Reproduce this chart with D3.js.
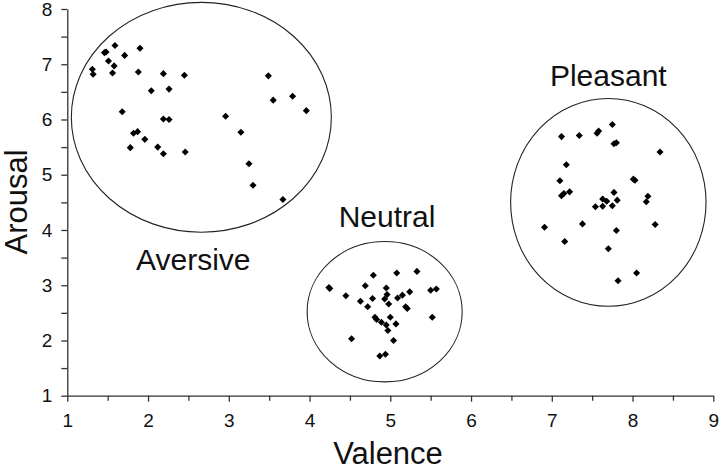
<!DOCTYPE html>
<html>
<head>
<meta charset="utf-8">
<script src="https://cdn.jsdelivr.net/npm/d3@7"></script>
<style>
  html, body { margin: 0; padding: 0; background: #fff; }
  svg { display: block; font-family: "Liberation Sans", Arial, sans-serif; }
</style>
</head>
<body>
<div class="container"></div>
<script>
// valence / arousal ratings
const aversive = [
  [1.31, 6.91], [1.32, 6.82], [1.46, 7.21], [1.48, 7.22], [1.59, 7.34],
  [1.51, 7.06], [1.58, 6.97], [1.56, 6.84], [1.71, 7.16], [1.90, 7.29],
  [1.88, 6.86], [2.19, 6.83], [2.45, 6.80], [2.04, 6.52], [2.26, 6.55],
  [1.68, 6.14], [2.19, 6.01], [2.26, 6.00], [1.82, 5.75], [1.87, 5.78],
  [1.96, 5.64], [1.78, 5.49], [2.12, 5.50], [2.19, 5.38], [2.46, 5.41],
  [2.96, 6.06], [3.15, 5.77], [3.25, 5.20], [3.30, 4.81], [3.67, 4.55],
  [3.49, 6.79], [3.55, 6.35], [3.79, 6.42], [3.96, 6.16]
];
const neutral = [
  [4.24, 2.96], [4.25, 2.94], [4.45, 2.81], [4.52, 2.03], [4.63, 2.71],
  [4.69, 2.99], [4.72, 2.61], [4.78, 2.76], [4.79, 3.18], [4.81, 2.42],
  [4.83, 2.38], [4.87, 1.72], [4.89, 2.33], [4.94, 1.75], [4.93, 2.75],
  [4.95, 2.95], [4.96, 2.83], [4.98, 2.66], [4.95, 2.28], [4.97, 2.18],
  [5.00, 2.42], [5.04, 2.00], [5.07, 2.30], [5.08, 3.22], [5.09, 2.77],
  [5.15, 2.82], [5.19, 2.61], [5.21, 2.58], [5.24, 2.88], [5.33, 3.25],
  [5.50, 2.91], [5.57, 2.93], [5.52, 2.42]
];
const pleasant = [
  [7.75, 5.91], [7.12, 5.69], [7.34, 5.71], [7.56, 5.75], [7.58, 5.79],
  [7.77, 5.56], [7.80, 5.58], [8.34, 5.41], [7.18, 5.18], [7.10, 4.89],
  [8.01, 4.92], [8.03, 4.90], [7.12, 4.62], [7.15, 4.66], [7.22, 4.69],
  [7.77, 4.68], [7.63, 4.56], [7.68, 4.52], [7.81, 4.54], [7.54, 4.42],
  [7.63, 4.43], [7.75, 4.44], [8.19, 4.61], [8.17, 4.51], [6.91, 4.05],
  [7.38, 4.11], [7.80, 3.99], [8.28, 4.10], [7.16, 3.79], [7.70, 3.66],
  [8.05, 3.22], [7.82, 3.08]
];

// group outlines: centre and radii in data units, label position
const groups = ['Aversive', 'Neutral', 'Pleasant'];
const ellipseCx = [2.66, 4.93, 7.70];
const ellipseCy = [6.04, 2.52, 4.50];
const ellipseRx = [1.61, 0.96, 1.21];
const ellipseRy = [2.08, 1.27, 1.88];
const labelX = [2.56, 4.96, 7.70];
const labelY = [3.27, 4.05, 6.61];

const xTicks = [1, 2, 3, 4, 5, 6, 7, 8, 9];
const yTicks = [1, 2, 3, 4, 5, 6, 7, 8];

const width = 720;
const height = 473;

const svg = d3
  .select('.container')
  .append('svg')
  .attr('width', width)
  .attr('height', height);

const xScale = d3.scaleLinear().domain([1, 9]).range([67.3, 713.3]);
const yScale = d3.scaleLinear().domain([1, 8]).range([395.7, 9]);

const halfSteps = (ticks) => ticks.slice(0, -1).map((t) => t + 0.5);

// minor ticks at the half units
svg
  .append('g')
  .attr('transform', `translate(0,${yScale(1)})`)
  .call(d3.axisBottom(xScale).tickValues(halfSteps(xTicks)).tickSize(5).tickFormat(''))
  .call((g) => g.select('.domain').remove());
svg
  .append('g')
  .attr('transform', `translate(${xScale(1)},0)`)
  .call(d3.axisLeft(yScale).tickValues(halfSteps(yTicks)).tickSize(6).tickFormat(''))
  .call((g) => g.select('.domain').remove());

svg
  .append('g')
  .attr('id', 'x-axis')
  .attr('transform', `translate(0,${yScale(1)})`)
  .call(
    d3.axisBottom(xScale).tickValues(xTicks).tickFormat(d3.format('d'))
      .tickSize(6).tickSizeOuter(0).tickPadding(12)
  );
svg
  .append('g')
  .attr('id', 'y-axis')
  .attr('transform', `translate(${xScale(1)},0)`)
  .call(
    d3.axisLeft(yScale).tickValues(yTicks).tickFormat(d3.format('d'))
      .tickSize(6).tickSizeOuter(0).tickPadding(9)
  );

svg.selectAll('#x-axis, #y-axis')
  .attr('font-size', 19)
  .attr('font-family', '"Liberation Sans", Arial, sans-serif');
svg.selectAll('.tick text').attr('fill', '#111');
svg.selectAll('.domain, .tick line').attr('stroke', '#333').attr('stroke-width', 1.3);

// group ellipses
groups.forEach((name, i) => {
  svg
    .append('ellipse')
    .attr('cx', xScale(ellipseCx[i]))
    .attr('cy', yScale(ellipseCy[i]))
    .attr('rx', xScale(ellipseCx[i] + ellipseRx[i]) - xScale(ellipseCx[i]))
    .attr('ry', yScale(ellipseCy[i]) - yScale(ellipseCy[i] + ellipseRy[i]))
    .attr('fill', 'none')
    .attr('stroke', '#222')
    .attr('stroke-width', 1.1);

  svg
    .append('text')
    .attr('x', xScale(labelX[i]))
    .attr('y', yScale(labelY[i]))
    .attr('text-anchor', 'middle')
    .style('font-size', '30px')
    .attr('fill', '#111')
    .text(name);
});

// points
const diamond = d3.symbol().type(d3.symbolSquare).size(25);
[aversive, neutral, pleasant].forEach((pts) => {
  svg
    .append('g')
    .selectAll('path')
    .data(pts)
    .enter()
    .append('path')
    .attr('d', diamond)
    .attr('transform', (d) => `translate(${xScale(d[0])},${yScale(d[1])}) rotate(45)`)
    .attr('fill', '#000');
});

// axis titles
svg
  .append('text')
  .attr('x', 388)
  .attr('y', 464)
  .attr('text-anchor', 'middle')
  .style('font-size', '31px')
  .attr('fill', '#111')
  .text('Valence');

svg
  .append('text')
  .attr('transform', 'rotate(-90)')
  .attr('x', -202)
  .attr('y', 27)
  .attr('text-anchor', 'middle')
  .style('font-size', '31px')
  .attr('fill', '#111')
  .text('Arousal');
</script>
</body>
</html>
